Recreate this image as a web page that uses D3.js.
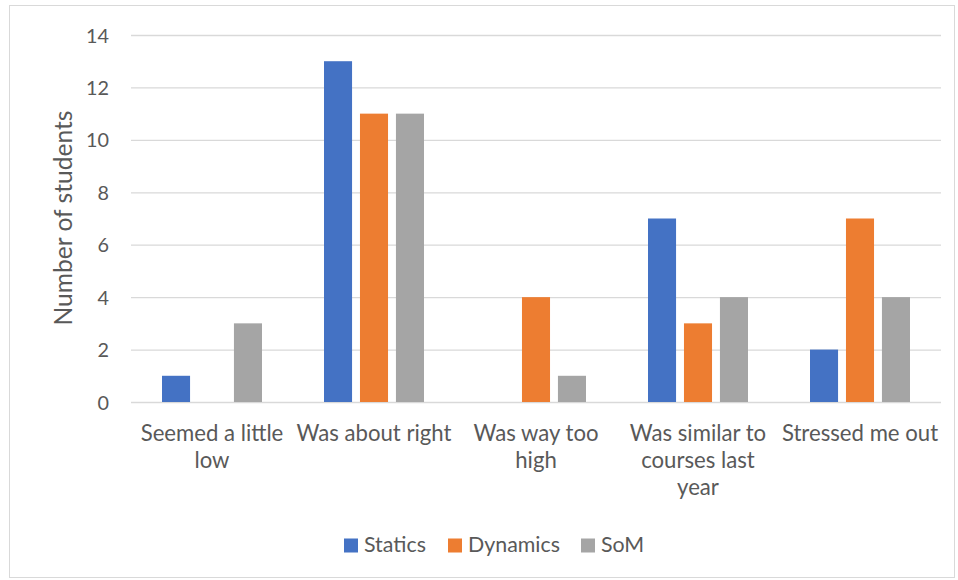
<!DOCTYPE html>
<html><head><meta charset="utf-8">
<script src="https://cdn.jsdelivr.net/npm/d3@7"></script>
<style>body{margin:0;background:#fff}svg{display:block}text{font-family:Lato,"Open Sans",sans-serif;fill:#595959}</style>
</head><body>
<svg id="c" width="958" height="580"></svg>
<script>
const categories = [["Seemed a little","low"],["Was about right"],["Was way too","high"],["Was similar to","courses last","year"],["Stressed me out"]];
const seriesNames = ["Statics","Dynamics","SoM"];
const statics = [1,13,0,7,2];
const dynamics = [0,11,4,3,7];
const som = [3,11,1,4,4];
const yTicks = [0,2,4,6,8,10,12,14];
const colors = ["#4472c4","#ed7d31","#a5a5a5"];

const svg = d3.select("#c");
function fitSize(str, target){
  const t = svg.append("text").attr("font-size",20).text(str);
  const w = t.node().getComputedTextLength(); t.remove();
  return 20*target/w;
}
const catSize = fitSize("Was about right",155);
const legSize = fitSize("Dynamics",92);
const titleSize = fitSize("Number of students",215);
const tickSize = fitSize("14",23);

svg.append("rect").attr("x",9.5).attr("y",5.5).attr("width",945).attr("height",572).attr("fill","#fff").attr("stroke","#d9d9d9");

const x0 = d3.scaleBand().domain(d3.range(categories.length)).range([131,941]);
const x1 = d3.scaleBand().domain(seriesNames).range([0,100]).paddingInner(0.22);
const y = d3.scaleLinear().domain([0,14]).range([402,35]);

const gy = svg.append("g").attr("transform","translate(131,0)")
  .call(d3.axisLeft(y).tickValues(yTicks).tickSize(-810).tickPadding(22));
gy.select(".domain").remove();
gy.selectAll(".tick line").attr("stroke","#d9d9d9").attr("stroke-width",1.3);
gy.selectAll(".tick text").attr("font-size",tickSize).attr("fill","#595959").style("font-family","Lato").attr("dy","0.36em");

const data = [statics,dynamics,som];
const groups = svg.append("g");
categories.forEach((c,i)=>{
  const gx = x0(i) + x0.bandwidth()/2 - 50;
  seriesNames.forEach((s,j)=>{
    const v = data[j][i];
    if (v>0) groups.append("rect").attr("x",gx+x1(s)).attr("width",x1.bandwidth())
      .attr("y",y(v)).attr("height",y(0)-y(v)).attr("fill",colors[j]);
  });
});

const gx = svg.append("g").attr("transform","translate(0,402)")
  .call(d3.axisBottom(x0).tickSize(0).tickFormat(""));
gx.select(".domain").remove();
categories.forEach((lines,i)=>{
  const cx = x0(i)+x0.bandwidth()/2;
  const t = svg.append("text").attr("text-anchor","middle").attr("font-size",catSize)
    .attr("x",cx).attr("y",441);
  lines.forEach((l,k)=>t.append("tspan").attr("x",cx).attr("dy",k?26.8:0).text(l));
});

svg.append("text").attr("transform","translate(72,218) rotate(-90)").attr("text-anchor","middle")
  .attr("font-size",titleSize).text("Number of students");

const legX = [344,448,581];
seriesNames.forEach((s,j)=>{
  svg.append("rect").attr("x",legX[j]).attr("y",538.5).attr("width",14).attr("height",14).attr("fill",colors[j]);
  svg.append("text").attr("x",legX[j]+20).attr("y",552).attr("font-size",legSize).text(s);
});
</script>
</body></html>
